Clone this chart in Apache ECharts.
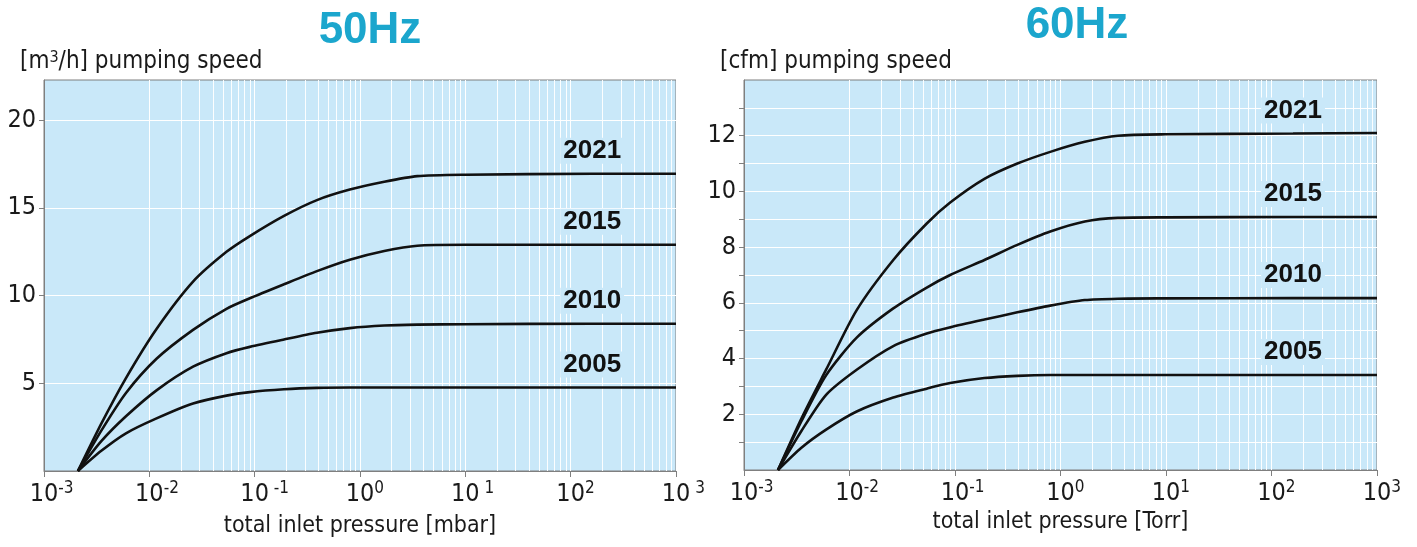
<!DOCTYPE html>
<html><head><meta charset="utf-8">
<script src="https://cdn.jsdelivr.net/npm/echarts@6/dist/echarts.min.js"></script>
<style>html,body{margin:0;padding:0;background:#fff}#c{width:1417px;height:547px}</style>
</head><body><div id="c"></div>
<script>
// ---- data ----
const pressure = [0.0021, 0.0035, 0.006, 0.0117, 0.026, 0.054, 0.09, 0.19, 0.39, 0.8, 1.7, 3.5, 10, 160, 1000];
const years = ['2021', '2015', '2010', '2005'];
// 50 Hz, pumping speed [m3/h] vs pressure [mbar]
const s50_2021 = [0, 2.7, 5.3, 8.1, 10.8, 12.5, 13.4, 14.55, 15.45, 16.05, 16.5, 16.82, 16.9, 16.95, 16.95];
const s50_2015 = [0, 2.3, 4.45, 6.4, 8.05, 9.25, 9.85, 10.65, 11.4, 12.05, 12.55, 12.85, 12.9, 12.9, 12.9];
const s50_2010 = [0, 1.7, 3.12, 4.6, 5.95, 6.72, 7.08, 7.5, 7.88, 8.15, 8.3, 8.35, 8.37, 8.4, 8.4];
const s50_2005 = [0, 1.15, 2.15, 3.0, 3.85, 4.3, 4.5, 4.66, 4.74, 4.76, 4.76, 4.76, 4.76, 4.76, 4.76];
// 60 Hz, pumping speed [cfm] vs pressure [Torr]
const s60_2021 = [0, 1.85, 3.6, 5.74, 7.54, 8.85, 9.6, 10.45, 11.0, 11.42, 11.78, 12.0, 12.05, 12.08, 12.1];
const s60_2015 = [0, 1.75, 3.4, 4.75, 5.8, 6.55, 7.0, 7.54, 8.08, 8.56, 8.92, 9.05, 9.07, 9.08, 9.08];
const s60_2010 = [0, 1.4, 2.7, 3.6, 4.45, 4.9, 5.12, 5.4, 5.66, 5.9, 6.1, 6.15, 6.16, 6.17, 6.17];
const s60_2005 = [0, 0.8, 1.45, 2.1, 2.6, 2.92, 3.12, 3.3, 3.38, 3.41, 3.41, 3.41, 3.41, 3.41, 3.41];
const labelAtPressure = 160;
// tick labels
const xExp50 = ['-3', '-2', ' -1', '0', ' 1', '2', ' 3'];
const xExp60 = ['-3', '-2', '-1', '0', '1', '2', '3'];
const yLabels50 = [5, 10, 15, 20];
const yLabels60 = [2, 4, 6, 8, 10, 12];
const yTicks60 = [1, 2, 3, 4, 5, 6, 7, 8, 9, 10, 11, 12, 13];

// ---- chart ----
const F = "'DejaVu Sans Condensed','Liberation Sans',sans-serif";
const BG = '#c9e8f9';
const AX = '#7f7f7f';
const TXT = '#1a1a1a';

const minorGrid = [];
for (let e = -3; e <= 2; e++) for (let k = 2; k <= 9; k++) minorGrid.push({ xAxis: +(k * Math.pow(10, e)).toPrecision(3) });

function xAxisCfg(gi, exps, name, gap) {
  return {
    gridIndex: gi, type: 'log', logBase: 10, min: 0.001, max: 1000, interval: 1,
    name: name, nameLocation: 'middle', nameGap: gap,
    nameTextStyle: { fontFamily: F, fontSize: 23, color: TXT },
    axisLine: { show: true, lineStyle: { color: AX, width: 1 } },
    axisTick: { show: true, length: 6, lineStyle: { color: AX } },
    axisLabel: {
      margin: 9, fontFamily: F, fontSize: 25, color: TXT,
      formatter: function (v) {
        const i = Math.round(Math.log10(v)) + 3;
        const e = exps[i];
        return '{h|' + e + '}{b|10}{s|' + e + '}';
      },
      rich: {
        b: { fontFamily: F, fontSize: 25, color: TXT, lineHeight: 28 },
        s: { fontFamily: F, fontSize: 17, color: TXT, verticalAlign: 'top', lineHeight: 17 },
        h: { fontFamily: F, fontSize: 17, color: 'rgba(0,0,0,0)', verticalAlign: 'top', lineHeight: 17 }
      }
    },
    splitLine: { show: true, lineStyle: { color: '#ffffff', width: 1 } }
  };
}

function yAxisCfg(gi, max, interval, ticks, labels, name) {
  return {
    gridIndex: gi, type: 'value', min: 0, max: max, interval: interval,
    name: name, nameLocation: 'end', nameGap: 18,
    nameTextStyle: {
      align: 'left', verticalAlign: 'middle', padding: [0, 0, 0, -24],
      fontFamily: F, fontSize: 24, color: TXT,
      rich: { s: { fontFamily: F, fontSize: 16, color: TXT, verticalAlign: 'top', lineHeight: 16 } }
    },
    axisLine: { show: true, lineStyle: { color: AX, width: 1 } },
    axisTick: { show: true, length: 5, customValues: ticks, lineStyle: { color: AX } },
    axisLabel: { customValues: labels, margin: 8, fontFamily: F, fontSize: 25, color: TXT },
    splitLine: { show: true, lineStyle: { color: '#ffffff', width: 1 } }
  };
}

function mkSeries(gi, vals, yearIdx, withGrid) {
  const data = pressure.map(function (p, i) {
    if (p === labelAtPressure) {
      return {
        value: [p, vals[i]],
        label: {
          show: true, position: 'top', distance: 10, formatter: years[yearIdx],
          fontFamily: "'Liberation Sans',sans-serif", fontWeight: 'bold', fontSize: 26, lineHeight: 26,
          color: '#111', backgroundColor: BG, padding: [0, 3]
        }
      };
    }
    return [p, vals[i]];
  });
  const s = {
    type: 'line', xAxisIndex: gi, yAxisIndex: gi, data: data, z: 3,
    showSymbol: true, symbol: 'circle', symbolSize: 0, showAllSymbol: true,
    smooth: 0.25,
    label: { show: false },
    lineStyle: { color: '#111', width: 2.6 }, silent: true
  };
  if (withGrid) {
    s.markLine = {
      z: 1, silent: true, symbol: 'none', animation: false,
      label: { show: false },
      lineStyle: { color: '#ffffff', width: 1, type: 'solid', opacity: 0.95 },
      emphasis: { disabled: true },
      data: minorGrid
    };
  }
  return s;
}

const chart = echarts.init(document.getElementById('c'), null, { renderer: 'canvas' });
chart.setOption({
  animation: false,
  backgroundColor: '#ffffff',
  title: [
    { text: '50Hz', left: 365, top: 4, textAlign: 'center',
      textStyle: { fontFamily: "'Liberation Sans',sans-serif", fontWeight: 'bold', fontSize: 44, color: '#1ba6cd' } },
    { text: '60Hz', left: 1072, top: -1, textAlign: 'center',
      textStyle: { fontFamily: "'Liberation Sans',sans-serif", fontWeight: 'bold', fontSize: 44, color: '#1ba6cd' } }
  ],
  grid: [
    { left: 44, right: 741, top: 80, bottom: 76, show: true, backgroundColor: BG, borderColor: AX, borderWidth: 1 },
    { left: 744, right: 40, top: 80, bottom: 77, show: true, backgroundColor: BG, borderColor: AX, borderWidth: 1 }
  ],
  xAxis: [
    xAxisCfg(0, xExp50, 'total inlet pressure [mbar]', 44),
    xAxisCfg(1, xExp60, 'total inlet pressure [Torr]', 38)
  ],
  yAxis: [
    yAxisCfg(0, 22.3, 1, yLabels50, yLabels50, '[m{s|3}/h] pumping speed'),
    yAxisCfg(1, 14, 0.5, yTicks60, yLabels60, '[cfm] pumping speed')
  ],
  series: [
    mkSeries(0, s50_2021, 0, true),
    mkSeries(0, s50_2015, 1, false),
    mkSeries(0, s50_2010, 2, false),
    mkSeries(0, s50_2005, 3, false),
    mkSeries(1, s60_2021, 0, true),
    mkSeries(1, s60_2015, 1, false),
    mkSeries(1, s60_2010, 2, false),
    mkSeries(1, s60_2005, 3, false)
  ]
});
</script>
</body></html>
